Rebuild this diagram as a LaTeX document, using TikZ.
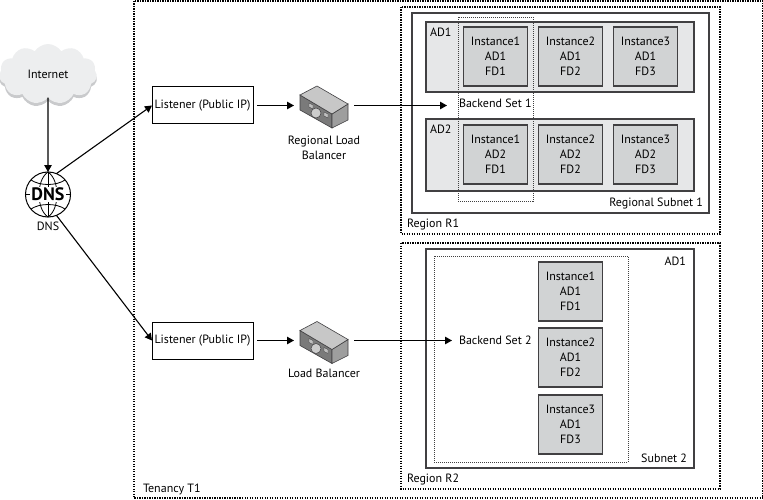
\documentclass[tikz,border=0pt]{standalone}
\usepackage{fontspec}
\setmainfont{PT Sans}
\usetikzlibrary{positioning,arrows.meta,shapes.symbols}
\definecolor{edgedark}{HTML}{414042}
\definecolor{adgrey}{HTML}{E6E7E8}
\definecolor{instgrey}{HTML}{D1D3D4}
\definecolor{cloudlight}{HTML}{EDEEEF}
\definecolor{cloudshade}{HTML}{C9CACC}

\begin{document}
\begin{tikzpicture}[
    x=1pt, y=-1pt,
    every node/.style={font=\fontsize{12}{15}\selectfont, inner sep=0pt, outer sep=0pt},
    tenancybox/.style={draw=black, line width=1.2pt, dash pattern=on 1.2pt off 1.3pt},
    backendbox/.style={draw=black!75, line width=0.7pt, dash pattern=on 1pt off 1pt},
    subnetbox/.style={draw=edgedark, line width=1.3pt},
    adbox/.style={draw=edgedark, line width=1.3pt, fill=adgrey},
    instance/.style={rectangle, draw=edgedark, line width=1.4pt, fill=instgrey,
                     minimum width=64.5pt, minimum height=59pt, align=center},
    listener/.style={rectangle, draw=black, line width=1pt, fill=white,
                     minimum width=101pt, minimum height=37pt},
    lbspot/.style={rectangle, minimum width=60pt, minimum height=36pt},
    puff/.style={cloud, cloud puffs=11, cloud puff arc=115, aspect=1.6,
                 minimum width=98pt, minimum height=60pt, fill=#1},
    arrow/.style={-{Triangle[length=7pt,width=7.5pt]}, line width=1.1pt, color=black},
    lbicon/.pic={
        \draw[edgedark, line width=0.6pt, fill=black!52] (-24,-10) -- (8,9) -- (8,23) -- (-24,5) -- cycle;
        \draw[edgedark, line width=0.6pt, fill=black!38] (8,9) -- (24,-1) -- (24,15) -- (8,23) -- cycle;
        \draw[edgedark, line width=0.6pt, fill=black!22] (-24,-10) -- (-7,-19) -- (24,-1) -- (8,9) -- cycle;
        \draw[edgedark, line width=0.4pt, fill=black!25] (-15,-2) -- (-11,0) -- (-11,4) -- (-15,2) -- cycle;
        \draw[edgedark, line width=0.4pt, fill=black!25] (0,7) -- (4,9) -- (4,13) -- (0,11) -- cycle;
        \draw[edgedark, line width=0.5pt, fill=black!20] (-8,8) circle (5);
    },
]
\useasboundingbox (0,0) rectangle (763,500);

% Tenancy and regions
\draw[tenancybox] (134,1) rectangle (763,498);
\draw[tenancybox] (401,7) rectangle (720,234);
\draw[tenancybox] (401,243) rectangle (720,489);
\node[anchor=west] (tenancy) at (143,489) {Tenancy T1};
\node[anchor=west] (regionr1) at (407,224) {Region R1};
\node[anchor=west] (regionr2) at (407,479) {Region R2};

% Region R1
\draw[subnetbox] (412,13) rectangle (709,213);
\draw[adbox] (426,22) rectangle (694,92);
\draw[adbox] (426,119) rectangle (694,191);
\node[anchor=west] (r1ad1) at (430,32) {AD1};
\node[anchor=west] (r1ad2) at (430,129) {AD2};
\node[anchor=east] (subnet1) at (703,203) {Regional Subnet 1};
\node[instance] (a1i1) at (495.5,56.5) {Instance1\\AD1\\FD1};
\node[instance, right=10.5pt of a1i1] (a1i2) {Instance2\\AD1\\FD2};
\node[instance, right=10.5pt of a1i2] (a1i3) {Instance3\\AD1\\FD3};
\node[instance] (a2i1) at (495.5,154.5) {Instance1\\AD2\\FD1};
\node[instance, right=10.5pt of a2i1] (a2i2) {Instance2\\AD2\\FD2};
\node[instance, right=10.5pt of a2i2] (a2i3) {Instance3\\AD2\\FD3};
\draw[backendbox] (458,17) rectangle (533,201);
\node[anchor=west] (set1) at (459,103.5) {Backend Set 1};

% Region R2
\draw[subnetbox] (426,249) rectangle (694,468);
\draw[backendbox] (434,256) rectangle (628,462);
\node[anchor=east] (r2ad1) at (686,261) {AD1};
\node[anchor=east] (subnet2) at (687,458) {Subnet 2};
\node[instance] (b1i1) at (570.5,291.5) {Instance1\\AD1\\FD1};
\node[instance, below=7pt of b1i1] (b1i2) {Instance2\\AD1\\FD2};
\node[instance, below=8pt of b1i2] (b1i3) {Instance3\\AD1\\FD3};
\node[anchor=west] (set2) at (459,340.5) {Backend Set 2};

% Internet
\node[puff=cloudshade] (shade) at (48,77) {};
\node[puff=cloudlight] (internet) at (48,74) {Internet};

% DNS globe
\node[circle, draw=black, line width=1pt, fill=white, minimum size=45pt] (dns) at (48,194.5) {};
\draw[line width=0.8pt] (dns.north) -- (dns.south);
\draw[line width=0.8pt] (dns.west) -- (dns.east);
\draw[line width=0.8pt] (48,172) .. controls (36,180) and (36,209) .. (48,217);
\draw[line width=0.8pt] (48,172) .. controls (60,180) and (60,209) .. (48,217);
\draw[line width=0.8pt] (31,180) .. controls (40,186) and (56,186) .. (65,180);
\draw[line width=0.8pt] (31,209) .. controls (40,203) and (56,203) .. (65,209);
\node[font=\fontsize{18}{18}\selectfont\bfseries, fill=white, inner xsep=1pt, inner ysep=0.5pt] (dnstext) at (48,194.5) {DNS};
\node (dnslabel) at (48,226.5) {DNS};

% Listeners
\node[listener] (lis1) at (202.5,105.5) {Listener (Public IP)};
\node[listener] (lis2) at (202.5,340.5) {Listener (Public IP)};

% Load balancers
\node[lbspot] (lb1) at (324,105.5) {};
\node[lbspot] (lb2) at (324,340.5) {};
\pic at (324,105) {lbicon};
\pic at (324,340.5) {lbicon};
\node[align=center, below=13pt of lb1] (lb1text) {Regional Load\\Balancer};
\node[below=11pt of lb2] (lb2text) {Load Balancer};

% Arrows
\draw[arrow] (internet.south) -- (dns.north);
\draw[arrow] (dns.68) -- (lis1.west);
\draw[arrow] (dns.-68) -- (lis2.west);
\draw[arrow, shorten <=4pt] (lis1.east) -- (lb1.west);
\draw[arrow, shorten <=4pt] (lis2.east) -- (lb2.west);
\draw[arrow, shorten >=12pt] (lb1.east) -- (lb1.east -| set1.west);
\draw[arrow, shorten >=7pt] (lb2.east) -- (lb2.east -| set2.west);

\end{tikzpicture}
\end{document}
